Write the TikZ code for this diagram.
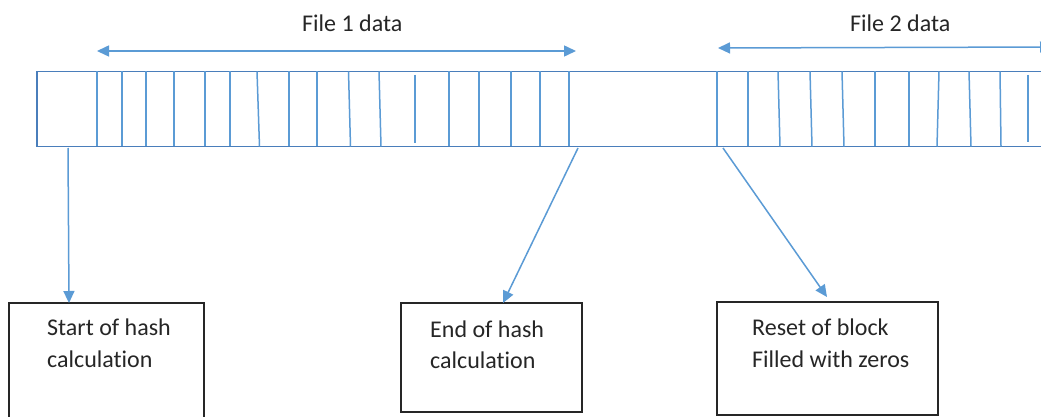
\documentclass[tikz,border=0pt]{standalone}
\usepackage{fontspec}
\setmainfont[Ligatures={NoCommon}]{Carlito}
\usetikzlibrary{arrows.meta}
\definecolor{stripblue}{HTML}{4A7EBB}
\definecolor{divblue}{HTML}{5B9BD5}
\definecolor{txtgray}{HTML}{262626}
\tikzset{
  strip/.style={draw=stripblue, line width=1.7pt, inner sep=0pt, outer sep=0pt, anchor=north west},
  divider/.style={draw=divblue, line width=1.5pt},
  conn/.style={draw=divblue, line width=1.5pt, -{Triangle[length=12pt,width=11pt]}},
  dconn/.style={draw=divblue, line width=1.5pt, {Triangle[length=12pt,width=11pt]}-{Triangle[length=12pt,width=11pt]}},
  infobox/.style={draw=txtgray, line width=2pt, inner sep=0pt, outer sep=0pt, anchor=north west},
  label/.style={text=txtgray, inner sep=0pt, anchor=base west, font=\fontsize{24}{32}\selectfont}
}
\begin{document}
\begin{tikzpicture}[x=1pt,y=-1pt]
\useasboundingbox (0,0) rectangle (1041,417);
\clip (0,0) rectangle (1041,417);
\fill[white] (0,0) rectangle (1041,417);
% the data strip
\node[strip, minimum width=1010pt, minimum height=75pt] (strip) at (37,71.5) {};
% dividers
\foreach \t/\b in {97/97,122/122,146/146,174/174,205/205,230/230,257/259.5,289/289,317/317,
  348.5/350.5,379/381,449/449,479/479,511/511,540/540,569/569,
  717/717,748/748,778/780,810/812,842/844,875/875,909/909,939/937,969/971,1000/1001}
  \draw[divider] (\t,71.5) -- (\b,146.5);
\draw[divider] (415,75) -- (415,143);
\draw[divider] (1028,75) -- (1028,142);
% File labels and spans
\node[label] (f1) at (302,32) {File 1 data};
\node[label] (f2) at (850,32) {File 2 data};
\coordinate (f1l) at (97,51);
\coordinate (f1r) at (576,51);
\draw[dconn] (f1l) -- (f1r);
\coordinate (f2l) at (718,48);
\coordinate (f2r) at (1052,47);
\draw[dconn] (f2l) -- (f2r);
% boxes
\node[infobox, minimum width=195pt, minimum height=130pt] (b1) at (8.5,303) {};
\node[infobox, minimum width=181pt, minimum height=109pt] (b2) at (401,303) {};
\node[infobox, minimum width=221pt, minimum height=113pt] (b3) at (717,302) {};
\node[label] (t1a) at (47,335) {Start of hash};
\node[label] (t1b) at (47,367) {calculation};
\node[label] (t2a) at (430,337) {End of hash};
\node[label] (t2b) at (430,368) {calculation};
\node[label] (t3a) at (752,335) {Reset of block};
\node[label] (t3b) at (752,367) {Filled with zeros};
% connectors
\coordinate (s1) at (68,148);
\coordinate (e1) at (69,303);
\coordinate (s2) at (578,148);
\coordinate (e2) at (503,303);
\coordinate (s3) at (723,148);
\coordinate (e3) at (827,297);
\draw[conn] (s1) -- (e1);
\draw[conn] (s2) -- (e2);
\draw[conn] (s3) -- (e3);
\end{tikzpicture}
\end{document}
